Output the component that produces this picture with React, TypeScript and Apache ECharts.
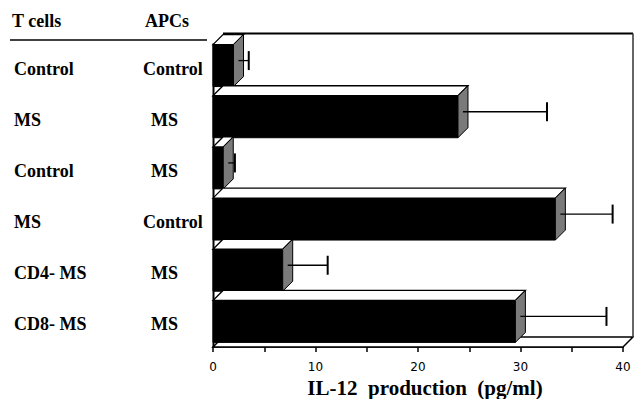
import React, { useEffect, useRef } from "react";
import * as echarts from "echarts";

const tCells = ["Control", "MS", "Control", "MS", "CD4- MS", "CD8- MS"];
const apcs = ["Control", "MS", "MS", "Control", "MS", "MS"];
const il12 = [2.0, 23.9, 1.0, 33.4, 6.8, 29.5];
const il12Upper = [3.0, 32.1, 1.65, 38.5, 10.7, 37.9];
const xTicks = [0, 10, 20, 30, 40];

const D = 10; // 3D depth offset in px
const BAR_RATIO = 0.82;
const SERIF = "'Liberation Serif', 'Times New Roman', serif";

export default function App() {
  const ref = useRef<HTMLDivElement>(null);
  useEffect(() => {
    if (!ref.current) return;
    const chart = echarts.init(ref.current, null, { renderer: "svg" });
    const xMin = xTicks[0];
    const xMax = xTicks[xTicks.length - 1];
    const labelStyle = {
      color: "#000",
      fontFamily: SERIF,
      fontWeight: "bold",
      fontSize: 18,
    };
    const option: any = {
      animation: false,
      backgroundColor: "#fff",
      grid: { left: 213, right: 11, top: 40, bottom: 52, containLabel: false, outerBoundsMode: "none" },
      xAxis: {
        type: "value",
        min: xMin,
        max: xMax,
        interval: 10,
        splitLine: { show: false },
        axisLine: { show: true, lineStyle: { color: "#000", width: 1.5 } },
        axisTick: { show: true, length: 5, lineStyle: { color: "#000", width: 1.5 } },
        minorTick: { show: true, splitNumber: 2, length: 5, lineStyle: { color: "#000", width: 1.5 } },
        axisLabel: {
          color: "#000",
          fontFamily: "'DejaVu Sans', sans-serif",
          fontSize: 12,
          margin: 14,
        },
        name: "IL-12  production  (pg/ml)",
        nameLocation: "middle",
        nameGap: 29,
        nameTextStyle: {
          color: "#000",
          fontFamily: SERIF,
          fontWeight: "bold",
          fontSize: 21,
          padding: [0, 0, 0, 14],
        },
      },
      yAxis: [
        {
          type: "category",
          inverse: true,
          data: tCells,
          axisLine: { show: false },
          axisTick: { show: false },
          axisLabel: {
            ...labelStyle,
            align: "left",
            margin: 213 - 14,
            padding: [6, 0, 0, 0],
            formatter: (v: string) => "{a|" + v + "}",
            rich: { a: { ...labelStyle } },
          },
        },
        {
          type: "category",
          inverse: true,
          position: "left",
          offset: 0,
          data: apcs,
          axisLine: { show: false },
          axisTick: { show: false },
          axisLabel: {
            ...labelStyle,
            align: "left",
            margin: 213 - 143,
            padding: [6, 0, 0, 0],
            formatter: (v: string) => (v === "MS" ? "{p|" + v + "}" : "{a|" + v + "}"),
            rich: {
              a: { ...labelStyle },
              p: { ...labelStyle, padding: [0, 0, 0, 8] },
            },
          },
        },
      ],
      graphic: [
        {
          type: "text",
          left: 12,
          top: 12,
          style: { text: "T cells", fill: "#000", font: "bold 18px " + SERIF },
        },
        {
          type: "text",
          left: 145,
          top: 12,
          style: { text: "APCs", fill: "#000", font: "bold 18px " + SERIF },
        },
        {
          type: "line",
          shape: { x1: 10, y1: 40, x2: 207, y2: 40 },
          style: { stroke: "#000", lineWidth: 1.5 },
        },
      ],
      series: [
        {
          type: "custom",
          name: "frame",
          z: 1,
          silent: true,
          data: [[0]],
          renderItem: (params: any, api: any) => {
            const band = api.size([0, 1])[1];
            const c0 = api.coord([xMin, 0]);
            const cN = api.coord([xMax, tCells.length - 1]);
            const x0 = c0[0];
            const x1 = cN[0];
            const h = band * BAR_RATIO;
            const top = c0[1] - h / 2 - D - 1;
            const bottom = cN[1] + band / 2;
            return {
              type: "group",
              children: [
                {
                  type: "polygon",
                  shape: { points: [[x0, bottom], [x0 + D, bottom - D], [x1 + D, bottom - D], [x1, bottom]] },
                  style: { fill: "#fff", stroke: "#000", lineWidth: 1.5 },
                },
                {
                  type: "line",
                  shape: { x1: x0 + D, y1: top, x2: x1 + D, y2: top },
                  style: { stroke: "#000", lineWidth: 2 },
                },
                {
                  type: "line",
                  shape: { x1: x1 + D, y1: top, x2: x1 + D, y2: bottom - D },
                  style: { stroke: "#333", lineWidth: 1.5 },
                },
                {
                  type: "line",
                  shape: { x1: x0 + 0.5, y1: top + D, x2: x0 + 0.5, y2: bottom },
                  style: { stroke: "#000", lineWidth: 2 },
                },
              ],
            };
          },
        },
        {
          type: "custom",
          name: "IL-12",
          z: 2,
          data: il12.map((v, i) => [v, i]),
          encode: { x: 0, y: 1 },
          renderItem: (params: any, api: any) => {
            const v = api.value(0);
            const c = api.value(1);
            const p0 = api.coord([0, c]);
            const p1 = api.coord([v, c]);
            const band = api.size([0, 1])[1];
            const h = band * BAR_RATIO;
            const x0 = p0[0];
            const x1 = p1[0];
            const yt = p0[1] - h / 2;
            const yb = p0[1] + h / 2;
            return {
              type: "group",
              children: [
                {
                  type: "rect",
                  shape: { x: x0, y: yt, width: x1 - x0, height: h },
                  style: { fill: "#000", stroke: "#000", lineWidth: 1 },
                },
                {
                  type: "polygon",
                  shape: { points: [[x0, yt], [x0 + D, yt - D], [x1 + D, yt - D], [x1, yt]] },
                  style: { fill: "#fff", stroke: "#000", lineWidth: 1.3 },
                },
                {
                  type: "polygon",
                  shape: { points: [[x1, yt], [x1 + D, yt - D], [x1 + D, yb - D], [x1, yb]] },
                  style: { fill: "#7a7a7a", stroke: "#000", lineWidth: 1 },
                },
              ],
            };
          },
        },
        {
          type: "custom",
          name: "error",
          z: 3,
          data: il12Upper.map((e, i) => [il12[i], e, i]),
          encode: { x: [0, 1], y: 2 },
          renderItem: (params: any, api: any) => {
            const v = api.value(0);
            const e = api.value(1);
            const c = api.value(2);
            const p0 = api.coord([v, c]);
            const p1 = api.coord([e, c]);
            const y = p0[1] - D / 2;
            const xs = p0[0] + D / 2;
            const xe = p1[0] + D / 2;
            const cap = 19;
            return {
              type: "group",
              children: [
                {
                  type: "line",
                  shape: { x1: xs, y1: y, x2: xe, y2: y },
                  style: { stroke: "#000", lineWidth: 1.3 },
                },
                {
                  type: "line",
                  shape: { x1: xe, y1: y - cap / 2, x2: xe, y2: y + cap / 2 },
                  style: { stroke: "#000", lineWidth: 2 },
                },
              ],
            };
          },
        },
      ],
    };
    chart.setOption(option);
    return () => chart.dispose();
  }, []);
  return (
    <div
      ref={ref}
      style={{ position: "fixed", left: 0, top: 0, width: 634, height: 399, background: "#fff" }}
    />
  );
}
